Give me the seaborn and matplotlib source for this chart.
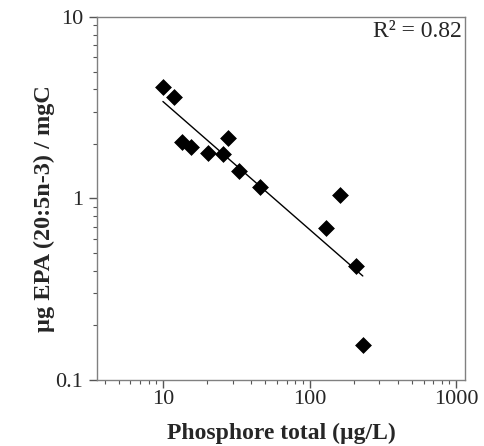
import numpy as np
import pandas as pd
import matplotlib
matplotlib.use("Agg")
import matplotlib.pyplot as plt
import matplotlib.ticker as mticker
import seaborn as sns

# Data
phosphore = [10.0, 11.9, 13.4, 15.5, 20.4, 25.6, 27.9, 33.2, 45.9, 130, 161, 208, 231]
epa = [4.13, 3.64, 2.04, 1.91, 1.77, 1.76, 2.16, 1.42, 1.16, 0.69, 1.04, 0.425, 0.156]
r2_label = "R\u00b2 = 0.82"

df = pd.DataFrame({"tp": phosphore, "epa": epa})

sns.set_theme(style="white")
plt.rcParams["font.family"] = ["Liberation Serif", "DejaVu Serif"]

fig = plt.figure(figsize=(4.84, 4.46), dpi=100)
ax = fig.add_axes([0.2004, 0.148, 0.7603, 0.8139])

# regression line in log-log space
slope, intercept = np.polyfit(np.log10(df["tp"]), np.log10(df["epa"]), 1)
fit_x = np.array([df["tp"].min(), df["tp"].max()])
fit = pd.DataFrame({"tp": fit_x, "epa": 10 ** (intercept + slope * np.log10(fit_x))})
sns.lineplot(data=fit, x="tp", y="epa", ax=ax, color="black", linewidth=1)

sns.scatterplot(data=df, x="tp", y="epa", ax=ax, marker="D", s=65,
                color="black", edgecolor="black", linewidth=0.5, zorder=3)

ax.set_xscale("log")
ax.set_yscale("log")
ax.set_xlim(3.55, 1150)
ax.set_ylim(0.1, 10)

ax.xaxis.set_major_formatter(mticker.FuncFormatter(lambda v, p: f"{v:g}"))
ax.yaxis.set_major_formatter(mticker.FuncFormatter(lambda v, p: f"{v:g}"))
ax.xaxis.set_minor_formatter(mticker.NullFormatter())
ax.yaxis.set_minor_formatter(mticker.NullFormatter())

ax.tick_params(axis="both", which="major", direction="out", length=5.5, width=1,
               color="#555555", labelsize=16, bottom=True, left=True)
ax.tick_params(axis="y", which="major", pad=4.5)
ax.tick_params(axis="x", which="major", pad=2)
ax.tick_params(axis="both", which="minor", direction="out", length=3, width=0.8,
               color="#555555", bottom=True, left=True)

for sp in ax.spines.values():
    sp.set_color("#808080")
    sp.set_linewidth(1)

ax.set_xlabel("Phosphore total (\u00b5g/L)", fontsize=17, fontweight="bold", labelpad=10)
ax.set_ylabel("\u00b5g EPA (20:5n-3) / mgC", fontsize=17.5, fontweight="bold")
ax.yaxis.set_label_coords(-0.114, 0.471)

ax.text(0.99, 0.99, r2_label, transform=ax.transAxes, ha="right", va="top", fontsize=17)

fig.savefig("out.png", dpi=100)
